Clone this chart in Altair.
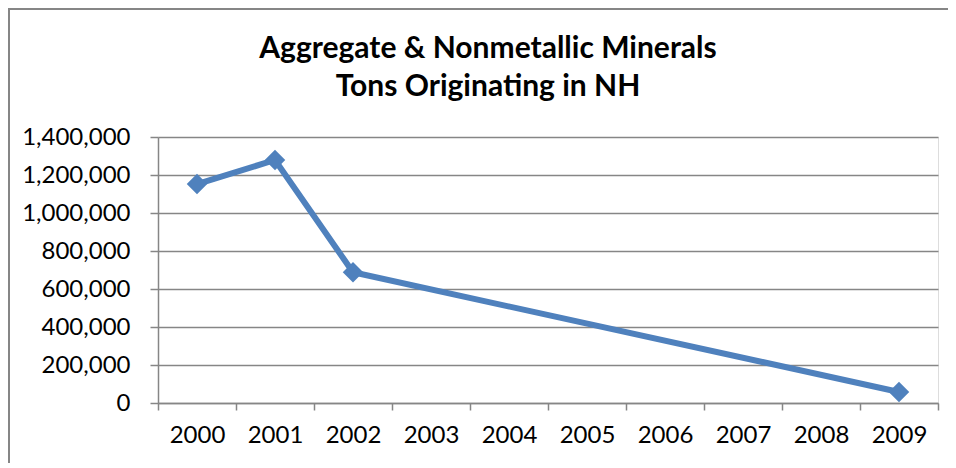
import altair as alt
import pandas as pd

years = ["2000", "2001", "2002", "2003", "2004", "2005", "2006", "2007", "2008", "2009"]
tons = [1152000, 1279000, 688000, None, None, None, None, None, None, 58000]
y_ticks = [0, 200000, 400000, 600000, 800000, 1000000, 1200000, 1400000]
title_lines = ["Aggregate & Nonmetallic Minerals", "Tons Originating in NH"]

df = pd.DataFrame({"year": years, "tons": tons})

BLUE = "#4F81BD"
GRAY = "#868686"
FONT = "Lato"

W, H = 780, 266
PAD = {"left": 150, "top": 129, "right": 10, "bottom": 60}

x = alt.X(
    "year:N",
    sort=years,
    scale=alt.Scale(type="band", domain=years, paddingInner=0, paddingOuter=0),
    axis=alt.Axis(
        title=None, tickBand="extent", labelAngle=0, grid=False,
        domainColor=GRAY, domainWidth=1.5, tickColor=GRAY, tickWidth=1.5, tickSize=7,
        labelFont=FONT, labelFontSize=24, labelColor="black", labelPadding=13,
    ),
)
y = alt.Y(
    "tons:Q",
    scale=alt.Scale(domain=[0, 1400000], nice=False),
    axis=alt.Axis(
        title=None, values=y_ticks, format=",.0f", grid=True, gridColor=GRAY, gridWidth=1.5,
        domainColor=GRAY, domainWidth=1.5, tickColor=GRAY, tickWidth=1.5, tickSize=8,
        labelFont=FONT, labelFontSize=24, labelColor="black", labelPadding=20,
    ),
)

base = alt.Chart(df).transform_filter("datum.tons != null")
line = base.mark_line(color=BLUE, strokeWidth=6).encode(x=x, y=y)
pts = base.mark_point(shape="diamond", filled=True, color=BLUE, size=420, opacity=1).encode(x=x, y=y)

border = alt.Chart(pd.DataFrame({"a": [0]})).mark_rect(
    fill=None, stroke=GRAY, strokeWidth=2
).encode(
    x=alt.value(-PAD["left"] + 1), x2=alt.value(W + PAD["right"] + 20),
    y=alt.value(-PAD["top"] + 1), y2=alt.value(H + PAD["bottom"] + 20),
)

chart = alt.layer(border, line, pts).properties(
    width=W, height=H,
    autosize=alt.AutoSizeParams(type="none"),
    padding=PAD,
    title=alt.TitleParams(
        text=title_lines, font=FONT, fontSize=30, fontWeight="bold", color="black",
        anchor="middle", dx=-60, offset=-94, lineHeight=38,
    ),
).configure_view(stroke=None).configure(background="white")

chart.save("out.html", embed_options={"renderer": "svg", "actions": False})
